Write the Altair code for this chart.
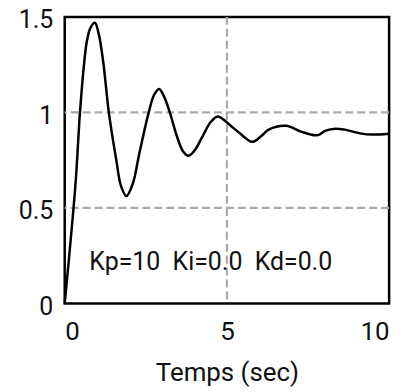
import altair as alt
import pandas as pd

# step response
t_vals = [0.0, 0.33, 0.47, 0.60, 0.69, 0.80, 0.93, 1.05, 1.19, 1.36, 1.60, 1.73, 1.90,
          2.10, 2.30, 2.59, 2.75, 2.91, 3.07, 3.24, 3.45, 3.65, 3.81, 4.00, 4.24, 4.50, 4.72,
          4.95, 5.16, 5.37, 5.78, 6.05, 6.29, 6.82, 7.31, 7.72, 7.85, 8.05, 8.35, 8.63,
          9.15, 9.46, 10.0]
y_vals = [0.0, 0.62, 1.00, 1.26, 1.38, 1.445, 1.469, 1.41, 1.26, 1.00, 0.74, 0.618, 0.562,
          0.628, 0.785, 1.00, 1.09, 1.123, 1.08, 1.00, 0.88, 0.795, 0.773, 0.80, 0.872, 0.95, 0.979,
          0.955, 0.924, 0.895, 0.846, 0.875, 0.910, 0.930, 0.898, 0.880, 0.884, 0.905, 0.915, 0.910,
          0.889, 0.884, 0.889]

x_ticks = [0, 5, 10]
y_ticks = [0, 0.5, 1, 1.5]
x_grid = [5]
y_grid = [0.5, 1.0]
annot_text = ["Kp=10\u00a0\u00a0Ki=0.0\u00a0\u00a0Kd=0.0"]
annot_x = [0.76]
annot_y = [0.175]

FONT = "Roboto"
df = pd.DataFrame({"t": t_vals, "y": y_vals})
xs = alt.Scale(domain=[0, 10], nice=False, zero=False)
ys = alt.Scale(domain=[0, 1.5], nice=False, zero=False)

gx = alt.Chart(pd.DataFrame({"g": x_grid})).mark_rule(
    color="#aaaaaa", strokeWidth=2.2, strokeDash=[8, 4]
).encode(x=alt.X("g:Q", scale=xs))
gy = alt.Chart(pd.DataFrame({"g": y_grid})).mark_rule(
    color="#aaaaaa", strokeWidth=2.2, strokeDash=[8, 4]
).encode(y=alt.Y("g:Q", scale=ys))

line = alt.Chart(df).mark_line(
    color="black", strokeWidth=2.5, interpolate="catmull-rom"
).encode(
    x=alt.X("t:Q", scale=xs, title="Temps (sec)",
            axis=alt.Axis(values=x_ticks, grid=False, domain=False, ticks=False,
                          labelPadding=15, titlePadding=15, format="d")),
    y=alt.Y("y:Q", scale=ys, title=None,
            axis=alt.Axis(values=y_ticks, grid=False, domain=False, ticks=False,
                          labelPadding=12, labelOffset=3, labelFontSize=25,
                          labelExpr="datum.value == 0 ? '0' : datum.value == 1 ? '1' : format(datum.value, '.1f')")),
)

txt = alt.Chart(pd.DataFrame({"x": annot_x, "y": annot_y, "s": annot_text})).mark_text(
    align="left", baseline="alphabetic", font=FONT, fontSize=25, color="#111111"
).encode(x=alt.X("x:Q", scale=xs), y=alt.Y("y:Q", scale=ys), text="s:N")

chart = alt.layer(gx, gy, line, txt).properties(
    width=326, height=288,
    background="white",
    autosize=alt.AutoSizeParams(type="none"),
    padding={"left": 57, "top": 8, "right": 20, "bottom": 86},
).configure_view(
    stroke="black", strokeWidth=2.5
).configure_axis(
    labelFont=FONT, labelFontSize=26, labelColor="#111111",
    titleFont=FONT, titleFontSize=26, titleColor="#111111", titleFontWeight="normal",
)

chart.save("out.html", embed_options={"renderer": "svg", "actions": False})
